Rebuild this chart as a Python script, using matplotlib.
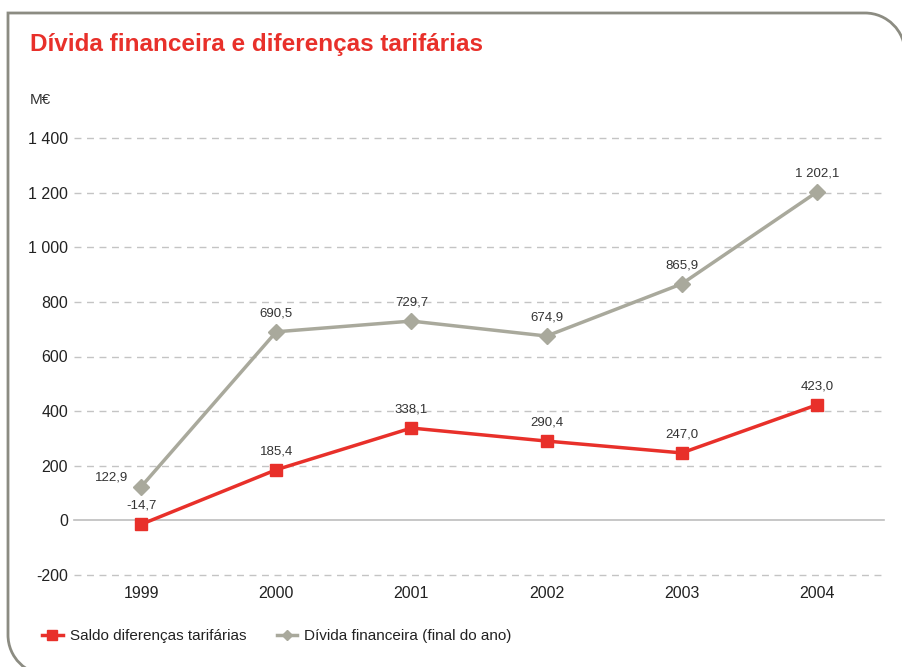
import matplotlib
matplotlib.use("Agg")
import matplotlib.pyplot as plt
from matplotlib.path import Path
from matplotlib.patches import PathPatch
from matplotlib.lines import Line2D

years = ["1999", "2000", "2001", "2002", "2003", "2004"]
saldo = [-14.7, 185.4, 338.1, 290.4, 247.0, 423.0]
divida = [122.9, 690.5, 729.7, 674.9, 865.9, 1202.1]
saldo_labels = ["-14,7", "185,4", "338,1", "290,4", "247,0", "423,0"]
divida_labels = ["122,9", "690,5", "729,7", "674,9", "865,9", "1 202,1"]
yticks = [-200, 0, 200, 400, 600, 800, 1000, 1200, 1400]
ytick_labels = ["-200", "0", "200", "400", "600", "800", "1 000", "1 200", "1 400"]

RED = "#e8302a"
GRAY = "#a9a99c"
FRAME = "#8c8c82"

W, H = 903, 667
plt.rcParams['font.family'] = ['Liberation Sans', 'DejaVu Sans']
fig = plt.figure(figsize=(W / 100, H / 100), dpi=100)

ax = fig.add_axes([73.5 / W, 1 - 575 / H, (884.5 - 73.5) / W, (575 - 138) / H])
x = list(range(len(years)))
ax.set_xlim(-0.5, 5.5)
ax.set_ylim(-200, 1400)

for t in yticks:
    if t == 0:
        ax.axhline(t, color="#bdbdbd", lw=1.2, zorder=1, clip_on=False)
    else:
        ax.axhline(t, color="#c4c4c4", lw=1.0, ls=(0, (5, 4)), zorder=1, clip_on=False)

ax.plot(x, divida, color=GRAY, lw=2.5, marker="D", ms=8, mfc=GRAY, mec=GRAY, zorder=3)
ax.plot(x, saldo, color=RED, lw=2.5, marker="s", ms=9, mfc=RED, mec=RED, zorder=4)

for i, (v, lab) in enumerate(zip(divida, divida_labels)):
    if i == 0:
        ax.annotate(lab, (i, v), xytext=(-9, 7), textcoords="offset points",
                    ha="right", va="center", fontsize=9.5, color="#333333")
    else:
        ax.annotate(lab, (i, v), xytext=(0, 9), textcoords="offset points",
                    ha="center", va="bottom", fontsize=9.5, color="#333333")
for i, (v, lab) in enumerate(zip(saldo, saldo_labels)):
    ax.annotate(lab, (i, v), xytext=(0, 9), textcoords="offset points",
                ha="center", va="bottom", fontsize=9.5, color="#333333")

ax.set_xticks(x)
ax.set_xticklabels(years, fontsize=11.5, color="#222222")
ax.set_yticks(yticks)
ax.set_yticklabels(ytick_labels, fontsize=11.5, color="#222222")
ax.tick_params(length=0)
ax.tick_params(axis="y", pad=4)
ax.tick_params(axis="x", pad=8)
for s in ax.spines.values():
    s.set_visible(False)
ax.patch.set_alpha(0)

# title and unit
fig.text(30 / W, 1 - 45 / H, "Dívida financeira e diferenças tarifárias",
         color=RED, fontsize=17.5, fontweight="bold", va="center", ha="left")
fig.text(30 / W, 1 - 100 / H, "M€", fontsize=11, color="#333333", va="center", ha="left")

# legend
handles = [Line2D([], [], color=RED, lw=2.5, marker="s", ms=7),
           Line2D([], [], color=GRAY, lw=2.5, marker="D", ms=5)]
fig.legend(handles, ["Saldo diferenças tarifárias", "Dívida financeira (final do ano)"],
           loc="center left", bbox_to_anchor=(36 / W, 1 - 636 / H), ncol=2,
           frameon=False, fontsize=11, handlelength=1.35, handletextpad=0.45,
           columnspacing=2.0, labelcolor="#222222", borderaxespad=0)

# frame (pixel coords, y down)
def P(px, py):
    return (px / W, 1 - py / H)
k = 0.5523
r1 = 40
r2 = 40
verts = [
    P(905, 13 + r1),
    P(905, 13 + r1 * (1 - k)),
    P(905 - r1 * (1 - k), 13),
    P(905 - r1, 13),
    P(8, 13),
    P(8, 675 - r2),
    P(8, 675 - r2 * (1 - k)),
    P(8 + r2 * (1 - k), 675),
    P(8 + r2, 675),
]
codes = [Path.MOVETO, Path.CURVE4, Path.CURVE4, Path.CURVE4, Path.LINETO,
         Path.LINETO, Path.CURVE4, Path.CURVE4, Path.CURVE4]
patch = PathPatch(Path(verts, codes), transform=fig.transFigure, fill=False,
                  edgecolor=FRAME, lw=2.0, clip_on=False)
fig.add_artist(patch)

fig.savefig("out.png", dpi=100)
